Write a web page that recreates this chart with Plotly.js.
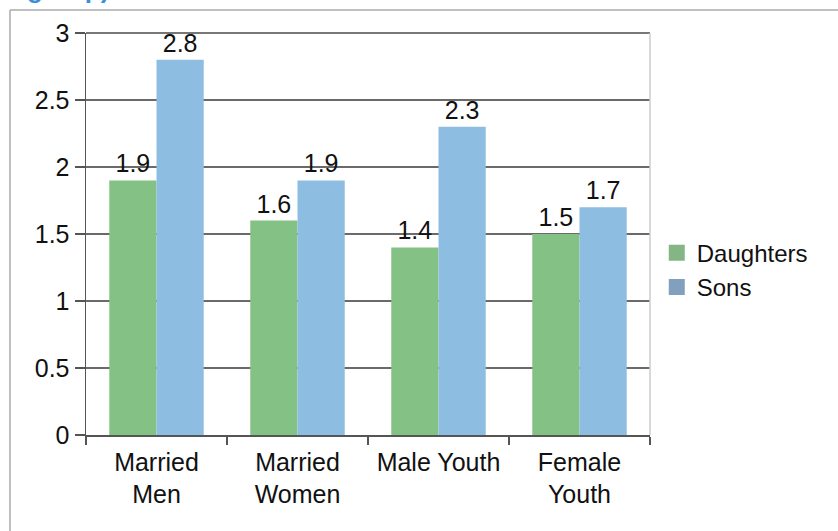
<!DOCTYPE html>
<html>
<head>
<meta charset="utf-8">
<script src="https://cdn.plot.ly/plotly-3.0.1.min.js"></script>
<style>html,body{margin:0;padding:0;background:#fff;}</style>
</head>
<body>
<div id="chart" style="width:838px;height:531px;"></div>
<script>
const categories = ["Married<br>Men", "Married<br>Women", "Male Youth", "Female<br>Youth"];
const daughters = [1.9, 1.6, 1.4, 1.5];
const sons = [2.8, 1.9, 2.3, 1.7];
const yTicks = [0, 0.5, 1, 1.5, 2, 2.5, 3];
const yTickText = ["0", "0.5", "1", "1.5", "2", "2.5", "3"];
const seriesNames = ["Daughters", "Sons"];

const font = {family: "Liberation Sans, Arial, sans-serif", size: 25, color: "#111"};

const traces = [
  {type: "bar", name: seriesNames[0], x: categories, y: daughters, showlegend: false,
   marker: {color: "#84c184"}, text: daughters.map(v => v.toFixed(1)),
   textposition: "outside", cliponaxis: false, textfont: font},
  {type: "bar", name: seriesNames[1], x: categories, y: sons, showlegend: false,
   marker: {color: "#8ebde2"}, text: sons.map(v => v.toFixed(1)),
   textposition: "outside", cliponaxis: false, textfont: font},
  {type: "scatter", mode: "markers", name: seriesNames[0], x: [categories[0]], y: [null],
   marker: {symbol: "square", size: 17, color: "#84b584"}},
  {type: "scatter", mode: "markers", name: seriesNames[1], x: [categories[0]], y: [null],
   marker: {symbol: "square", size: 17, color: "#81a0bd"}}
];

const layout = {
  width: 838, height: 531,
  margin: {l: 86, r: 188, t: 33, b: 96},
  paper_bgcolor: "#fff", plot_bgcolor: "#fff",
  font: font,
  barmode: "group", bargap: 0.33, bargroupgap: 0,
  showlegend: true,
  legend: {x: 1.012, y: 0.41, xanchor: "left", yanchor: "middle",
           font: {family: "Liberation Sans, Arial, sans-serif", size: 24, color: "#111"},
           bgcolor: "rgba(0,0,0,0)", tracegroupgap: 0, itemwidth: 30, itemsizing: "trace"},
  xaxis: {type: "category", showgrid: false, showline: true, linecolor: "#555", linewidth: 1.5,
          ticks: "outside", tickson: "boundaries", ticklen: 8, tickcolor: "#555", tickwidth: 1.5,
          tickfont: font, automargin: false, ticklabelstandoff: 4},
  yaxis: {range: [0, 3], tickvals: yTicks, ticktext: yTickText, showgrid: true, gridcolor: "#6a6a6a",
          gridwidth: 1.5, zeroline: false, showline: true, linecolor: "#555", linewidth: 1.5,
          ticks: "outside", ticklen: 10, tickcolor: "#555", tickwidth: 1.5, tickfont: font,
          automargin: false},
  shapes: [
    {type: "line", xref: "paper", yref: "paper", x0: 0, x1: 1, y0: 1, y1: 1, line: {color: "#777", width: 2}},
    {type: "line", xref: "paper", yref: "paper", x0: 1, x1: 1, y0: 0, y1: 1, line: {color: "#ccc", width: 1.5}},
    {type: "line", xref: "paper", yref: "paper", x0: -0.1348, x1: -0.1348, y0: -0.24, y1: 1.057, line: {color: "#aaa", width: 1.5}},
    {type: "line", xref: "paper", yref: "paper", x0: -0.1348, x1: 1.34, y0: 1.057, y1: 1.057, line: {color: "#aaa", width: 1.5}}
  ],
  annotations: [
    {xref: "paper", yref: "paper", x: 0.045, y: 1.066, xanchor: "right", yanchor: "bottom",
     text: "<b>group)</b>", showarrow: false, font: {family: "Liberation Sans, Arial, sans-serif", size: 26, color: "#3a8fd9"}}
  ]
};

Plotly.newPlot("chart", traces, layout, {displayModeBar: false, staticPlot: true});
</script>
</body>
</html>
